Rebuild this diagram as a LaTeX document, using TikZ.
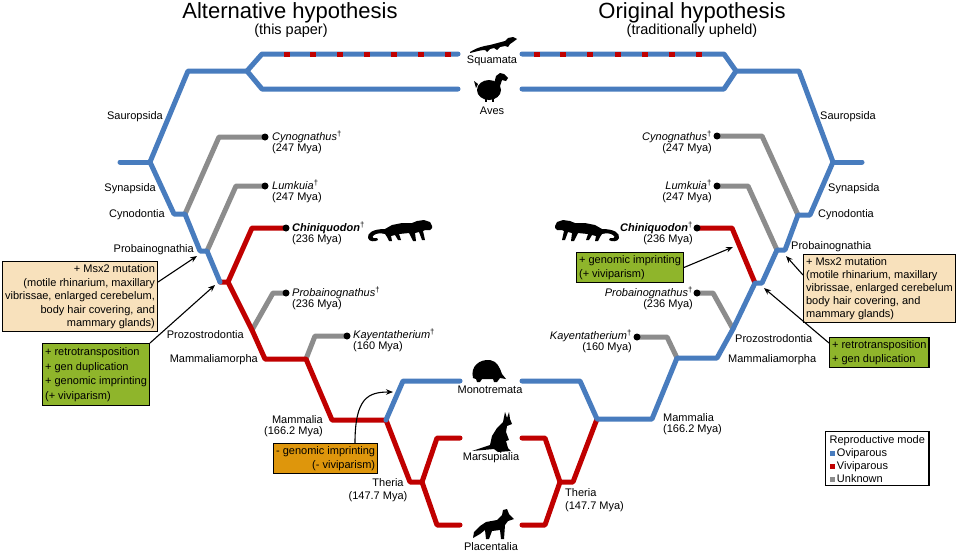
\documentclass[tikz,border=0pt]{standalone}
\usepackage{fontspec}
\setmainfont{Liberation Sans}
\usetikzlibrary{arrows.meta,calc}
\definecolor{ovi}{RGB}{72,124,190}
\definecolor{vivi}{RGB}{192,0,0}
\definecolor{unk}{RGB}{140,140,140}
\definecolor{gbox}{RGB}{143,181,43}
\definecolor{tbox}{RGB}{248,225,188}
\definecolor{obox}{RGB}{222,150,12}
\newcommand{\labfont}{\fontsize{11}{12}\selectfont}
\newcommand{\dg}{\textsuperscript{†}}
\begin{document}
\begin{tikzpicture}[x=1pt,y=-1pt,
 br/.style={line width=5pt,line cap=round,line join=round},
 lab/.style={font=\labfont,inner sep=0pt},
 fos/.style={font=\fontsize{11}{11}\selectfont,inner sep=0pt},
 ann/.style={draw=black,line width=1.2pt,inner xsep=2.5pt,inner ysep=3pt,anchor=north west},
 arr/.style={line width=1.1pt,-{Stealth[length=7pt,width=5.5pt]}},
 dotn/.style={circle,fill=black,inner sep=0pt,minimum size=7pt},
 chini/.pic={\fill[black] (65,6) -- (63,2) -- (57,0) -- (50,1) -- (45,3) -- (35,3) -- (25,5) -- (18,9)
   .. controls (6,9) and (0,13) .. (1,18) .. controls (2,22) and (8,22) .. (11,20)
   -- (10,18) .. controls (6,19) and (4,17) .. (7,15) .. controls (10,13) and (14,13) .. (18,14)
   -- (20,17) -- (22,21) -- (25,21) -- (24,16) -- (28,15) -- (31,20) -- (34,20) -- (32,14)
   -- (42,13) -- (46,21) -- (49,21) -- (48,13) -- (52,12) -- (55,20) -- (58,20) -- (56,11)
   -- (58,10) -- (63,10) -- (65,8) -- cycle;}
]
\path[use as bounding box,fill=white] (0,0) rectangle (960,552);

% titles
\node[font=\fontsize{22}{24}\selectfont,anchor=base] (tL) at (290,18) {Alternative hypothesis};
\node[font=\fontsize{14.5}{16}\selectfont,anchor=base] (sL) at (291,34) {(this paper)};
\node[font=\fontsize{22}{24}\selectfont,anchor=base] (tR) at (692,18) {Original hypothesis};
\node[font=\fontsize{14.5}{16}\selectfont,anchor=base] (sR) at (692,34) {(traditionally upheld)};

% ---------- left tree ----------
\draw[br,unk] (185,214) -- (219,137) -- (265,137);
\draw[br,unk] (207,251) -- (236,186) -- (265,186);
\draw[br,unk] (252,330) -- (273,293) -- (286,293);
\draw[br,unk] (306,359) -- (315,336) -- (347,336);
\draw[br,vivi] (220,282) -- (228,282) -- (252,330) -- (265,359) -- (306,359) -- (332,420) -- (386,420) -- (410,482) -- (422,482);
\draw[br,vivi] (228,282) -- (252,228) -- (286,228);
\draw[br,vivi] (422,482) -- (437,438) -- (460,438);
\draw[br,vivi] (422,482) -- (437,525) -- (460,525);
\draw[br,ovi] (120,162) -- (150,162);
\draw[br,ovi] (150,162) -- (188,71) -- (247,71);
\draw[br,ovi] (247,71) -- (262,54) -- (458,54);
\draw[br,ovi] (247,71) -- (262,89) -- (458,89);
\draw[br,ovi] (150,162) -- (174,214) -- (185,214) -- (200,251) -- (207,251) -- (220,282);
\draw[br,ovi] (386,420) -- (403,381) -- (460,381);
\foreach \x in {287,313,340,367,394,421,448} \draw[vivi,line width=5pt] (\x-3,54) -- (\x+3,54);

% ---------- right tree ----------
\draw[br,unk] (798,215) -- (762,136) -- (717,136);
\draw[br,unk] (777,250) -- (748,186) -- (717,186);
\draw[br,unk] (733,329) -- (713,293) -- (697,293);
\draw[br,unk] (677,358) -- (667,337) -- (637,337);
\draw[br,vivi] (755,283) -- (732,228) -- (697,228);
\draw[br,vivi] (597,419) -- (573,482) -- (560,482);
\draw[br,vivi] (560,482) -- (545,438) -- (522,438);
\draw[br,vivi] (560,482) -- (545,525) -- (522,525);
\draw[br,ovi] (862,162) -- (833,162);
\draw[br,ovi] (833,162) -- (799,71) -- (736,71);
\draw[br,ovi] (736,71) -- (724,54) -- (522,54);
\draw[br,ovi] (736,71) -- (724,89) -- (522,89);
\draw[br,ovi] (833,162) -- (810,215) -- (798,215) -- (785,250) -- (777,250) -- (762,283) -- (755,283) -- (733,329) -- (717,358) -- (677,358) -- (652,419) -- (597,419) -- (580,381) -- (522,381);
\foreach \x in {537,563,590,618,645,672,699} \draw[vivi,line width=5pt] (\x-3,54) -- (\x+3,54);

% dots
\node[dotn] (dL1) at (265,137) {};
\node[dotn] (dL2) at (265,186) {};
\node[dotn] (dL3) at (286,228) {};
\node[dotn] (dL4) at (286,293) {};
\node[dotn] (dL5) at (347,336) {};
\node[dotn] (dR1) at (717,136) {};
\node[dotn] (dR2) at (717,186) {};
\node[dotn] (dR3) at (697,228) {};
\node[dotn] (dR4) at (697,293) {};
\node[dotn] (dR5) at (637,337) {};

% fossil labels
\node[fos,anchor=west,align=left] (fL1) at (272,142.5) {\textit{Cynognathus}\dg\\(247 Mya)};
\node[fos,anchor=west,align=left] (fL2) at (272,191) {\textit{Lumkuia}\dg\\(247 Mya)};
\node[fos,anchor=west,align=left] (fL3) at (292,233.5) {\textbf{\textit{Chiniquodon}}\dg\\(236 Mya)};
\node[fos,anchor=west,align=left] (fL4) at (292,298) {\textit{Probainognathus}\dg\\(236 Mya)};
\node[fos,anchor=west,align=left] (fL5) at (353,340.5) {\textit{Kayentatherium}\dg\\(160 Mya)};
\node[fos,anchor=east,align=right] (fR1) at (712,142) {\textit{Cynognathus}\dg\\(247 Mya)};
\node[fos,anchor=east,align=right] (fR2) at (712,191.5) {\textit{Lumkuia}\dg\\(247 Mya)};
\node[fos,anchor=east,align=right] (fR3) at (693,233) {\textbf{\textit{Chiniquodon}}\dg\\(236 Mya)};
\node[fos,anchor=east,align=right] (fR4) at (693,298) {\textit{Probainognathus}\dg\\(236 Mya)};
\node[fos,anchor=east,align=right] (fR5) at (632,341) {\textit{Kayentatherium}\dg\\(160 Mya)};

% clade labels left
\node[lab,anchor=east] (cL1) at (163,117) {Sauropsida};
\node[lab,anchor=east] (cL2) at (156,189) {Synapsida};
\node[lab,anchor=east] (cL3) at (165,215) {Cynodontia};
\node[lab,anchor=east] (cL4) at (194,250) {Probainognathia};
\node[lab,anchor=east] (cL5) at (244,335) {Prozostrodontia};
\node[lab,anchor=east] (cL6) at (258,360) {Mammaliamorpha};
\node[fos,anchor=east,align=right] (cL7) at (323,426) {Mammalia\\(166.2 Mya)};
\node[lab] (cL8) at (388,483) {Theria};
\node[lab] (cL9) at (378,497) {(147.7 Mya)};
% clade labels right
\node[lab,anchor=west] (cR1) at (820,117) {Sauropsida};
\node[lab,anchor=west] (cR2) at (828,189) {Synapsida};
\node[lab,anchor=west] (cR3) at (818,215) {Cynodontia};
\node[lab,anchor=west] (cR4) at (791,247) {Probainognathia};
\node[lab,anchor=west] (cR5) at (735,339) {Prozostrodontia};
\node[lab,anchor=west] (cR6) at (728,360) {Mammaliamorpha};
\node[fos,anchor=west,align=left] (cR7) at (663,424.5) {Mammalia\\(166.2 Mya)};
\node[lab,anchor=west] (cR8) at (565,493) {Theria};
\node[lab,anchor=west] (cR9) at (565,507) {(147.7 Mya)};
% taxa centre
\node[lab] (tx1) at (492,61) {Squamata};
\node[lab] (tx2) at (492,111) {Aves};
\node[lab] (tx3) at (490,390) {Monotremata};
\node[lab] (tx4) at (491,458) {Marsupialia};
\node[lab] (tx5) at (491,547) {Placentalia};

% silhouettes
\fill[black] (470,52) .. controls (478,47) and (484,46) .. (490,45) -- (505,41) -- (508,38) -- (513,37) -- (517,39) -- (513,42) -- (510,44) -- (508,47) -- (505,46) -- (500,47) -- (497,50) -- (494,48) -- (490,49) -- (487,52) -- (485,50) .. controls (480,50) and (475,52) .. (470,53) -- cycle;
\fill[black] (489,90) ellipse[x radius=12,y radius=10];
\fill[black] (494,84) -- (496,76) -- (500,73) -- (504,74) -- (508,78) -- (506,81) -- (502,80) -- (500,86) -- cycle;
\fill[black] (478,84) -- (474,81) -- (476,88) -- cycle;
\draw[black,line width=1.5pt] (486,98) -- (486,102) (493,98) -- (493,102);
\pic at (367,220) {chini};
\pic[xscale=-1] at (620,220) {chini};
\fill[black] (473,378) .. controls (470,366) and (480,359) .. (490,360) .. controls (497,361) and (500,368) .. (502,374) -- (506,379) -- (500,378) -- (497,382) -- (494,382) -- (493,379) -- (482,379) -- (480,382) -- (477,382) -- (476,379) -- cycle;
\fill[black] (505,412) -- (507,418) -- (509,412) -- (510,419) -- (512,424) -- (507,426) -- (506,432) -- (509,440) -- (506,441) -- (508,448) -- (511,451) -- (498,452) -- (494,449) -- (472,451) -- (490,445) -- (492,436) -- (497,428) -- (503,422) -- (504,417) -- cycle;
\fill[black] (507,509) -- (509,514) -- (514,519) -- (508,521) -- (505,525) -- (504,539) -- (501,539) -- (500,530) -- (492,531) -- (489,539) -- (486,539) -- (485,530) -- (480,534) -- (473,538) -- (474,532) -- (480,526) -- (486,522) -- (497,520) -- (502,515) -- (503,510) -- cycle;

% annotation boxes
\node[ann,fill=tbox,align=right,font=\fontsize{11}{13.5}\selectfont] (tanL) at (2,261) {+ Msx2 mutation\\(motile rhinarium, maxillary\\vibrissae, enlarged cerebelum,\\body hair covering, and\\mammary glands)};
\node[ann,fill=gbox,align=left,font=\fontsize{11}{14.5}\selectfont,inner ysep=4pt] (grL) at (42,343) {+ retrotransposition\\+ gen duplication\\+ genomic imprinting\\(+ viviparism)};
\node[ann,fill=obox,align=right,font=\fontsize{11}{13.5}\selectfont] (orng) at (273,443) {- genomic imprinting\\(- viviparism)};
\node[ann,fill=gbox,align=left,font=\fontsize{11}{13.5}\selectfont] (grR1) at (576,252) {+ genomic imprinting\\(+ viviparism)};
\node[ann,fill=tbox,align=left,font=\fontsize{11}{13}\selectfont] (tanR) at (803,254) {+ Msx2 mutation\\(motile rhinarium, maxillary\\vibrissae, enlarged cerebelum\\body hair covering, and\\mammary glands)};
\node[ann,fill=gbox,align=left,font=\fontsize{11}{13.5}\selectfont] (grR2) at (829,337) {+ retrotransposition\\+ gen duplication};

% arrow targets
\coordinate (pL1) at (197,256);
\coordinate (pL2) at (215,285);
\coordinate (pL3) at (393,392);
\coordinate (pR1) at (733,247);
\coordinate (pR2) at (786,256);
\coordinate (pR3) at (764,288);
\draw[arr] ($(tanL.north east)+(0,21)$) -- (pL1);
\draw[arr] (grL.north east) -- (pL2);
\draw[arr] ($(orng.north west)+(82,0)$) .. controls +(0,-45) and +(-25,0) .. (pL3);
\draw[arr] (grR1.east) -- (pR1);
\draw[arr] ($(tanR.north west)+(0,21)$) -- (pR2);
\draw[arr] ($(grR2.north west)+(0,6)$) -- (pR3);

% legend
\node[draw=black,line width=1.2pt,anchor=north west,align=left,inner xsep=4pt,inner ysep=3.5pt,font=\fontsize{11}{13}\selectfont] (leg) at (825,431)
 {Reproductive mode\\\textcolor{ovi}{\rule{5.5pt}{5.5pt}}\,Oviparous\\\textcolor{vivi}{\rule{5.5pt}{5.5pt}}\,Viviparous\\\textcolor{unk}{\rule{5.5pt}{5.5pt}}\,Unknown};
\end{tikzpicture}
\end{document}
